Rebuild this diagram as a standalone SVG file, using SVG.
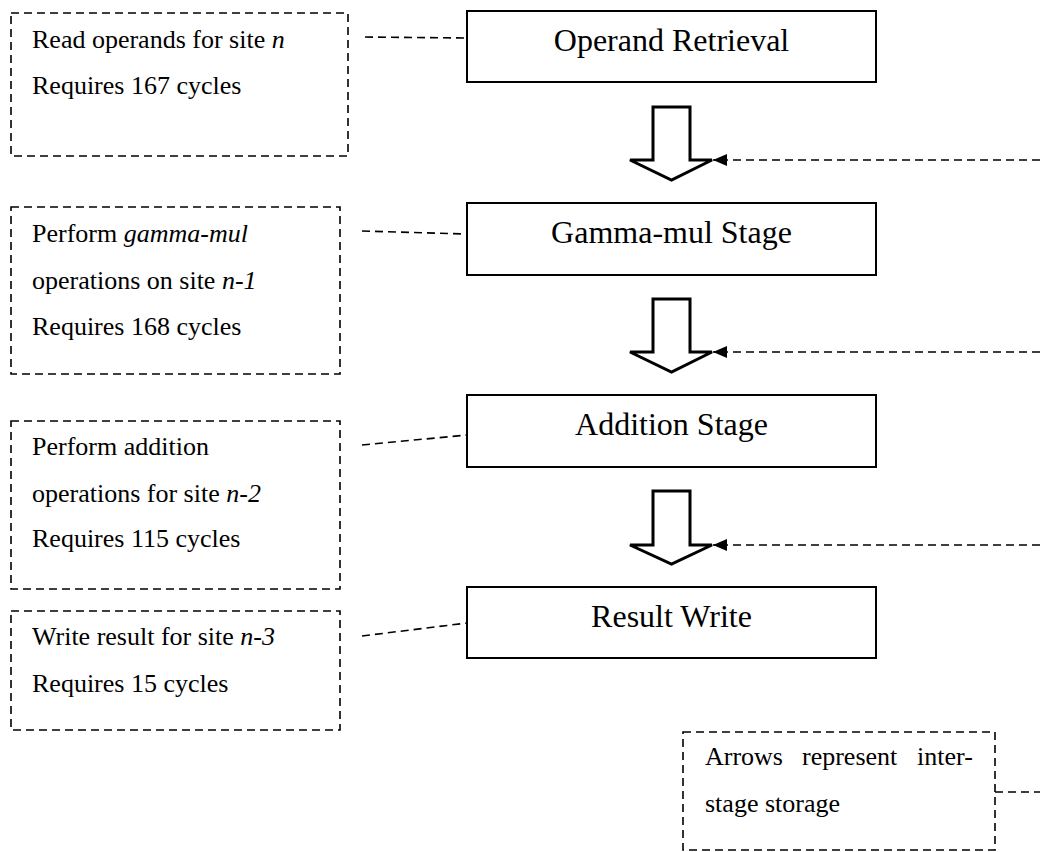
<svg xmlns="http://www.w3.org/2000/svg" width="1040" height="852" viewBox="0 0 1040 852">
<style>
.note{fill:none;stroke:#000;stroke-width:1.6;stroke-dasharray:8,5}
.stage{fill:#fff;stroke:#000;stroke-width:2}
.conn{fill:none;stroke:#000;stroke-width:1.6;stroke-dasharray:8,5}
.flow{fill:#fff;stroke:#000;stroke-width:3;stroke-linejoin:miter}
.t{font-family:"Liberation Serif","Times New Roman",serif;font-size:26px;fill:#000}
.st{font-family:"Liberation Serif","Times New Roman",serif;font-size:32px;fill:#000;text-anchor:middle}
</style>
<defs>
<marker id="ah" markerUnits="userSpaceOnUse" markerWidth="16" markerHeight="14" refX="14" refY="7" orient="auto" viewBox="0 0 16 14">
<path d="M0,1 L14,7 L0,13 Z" fill="#000" stroke="none"/>
</marker>
</defs>
<rect width="1040" height="852" fill="#fff"/>

<g id="flow-arrows">
<polygon class="flow" points="653,107 690,107 690,160 712,160 671.5,180 630,160 653,160"/>
<polygon class="flow" points="653,299 690,299 690,352 712,352 671.5,372 630,352 653,352"/>
<polygon class="flow" points="653,491 690,491 690,545 712,545 671.5,564 630,545 653,545"/>
</g>

<g id="connectors">
<line class="conn" x1="365" y1="37" x2="467" y2="38"/>
<line class="conn" x1="362" y1="231" x2="467" y2="234"/>
<line class="conn" x1="362" y1="445" x2="467" y2="435"/>
<line class="conn" x1="362" y1="636" x2="467" y2="623"/>
<path class="conn" d="M1040,160 H713" marker-end="url(#ah)"/>
<path class="conn" d="M1040,352 H713" marker-end="url(#ah)"/>
<path class="conn" d="M1040,545 H713" marker-end="url(#ah)"/>
<line class="conn" x1="995" y1="792" x2="1040" y2="792"/>
</g>

<g id="note-read">
<rect class="note" x="11" y="13" width="337" height="143"/>
<text class="t" x="32" y="48">Read operands for site <tspan font-style="italic">n</tspan></text>
<text class="t" x="32" y="94">Requires 167 cycles</text>
</g>

<g id="note-gamma">
<rect class="note" x="11" y="207" width="329" height="167"/>
<text class="t" x="32" y="242">Perform <tspan font-style="italic">gamma-mul</tspan></text>
<text class="t" x="32" y="289">operations on site <tspan font-style="italic">n-1</tspan></text>
<text class="t" x="32" y="335">Requires 168 cycles</text>
</g>

<g id="note-addition">
<rect class="note" x="11" y="421" width="329" height="168"/>
<text class="t" x="32" y="455">Perform addition</text>
<text class="t" x="32" y="502">operations for site <tspan font-style="italic">n-2</tspan></text>
<text class="t" x="32" y="547">Requires 115 cycles</text>
</g>

<g id="note-write">
<rect class="note" x="11" y="611" width="329" height="119"/>
<text class="t" x="32" y="645">Write result for site <tspan font-style="italic">n-3</tspan></text>
<text class="t" x="32" y="692">Requires 15 cycles</text>
</g>

<g id="stage-operand">
<rect class="stage" x="467" y="11" width="409" height="71"/>
<text class="st" x="671.5" y="51">Operand Retrieval</text>
</g>
<g id="stage-gamma">
<rect class="stage" x="467" y="203" width="409" height="72"/>
<text class="st" x="671.5" y="243">Gamma-mul Stage</text>
</g>
<g id="stage-addition">
<rect class="stage" x="467" y="395" width="409" height="72"/>
<text class="st" x="671.5" y="435">Addition Stage</text>
</g>
<g id="stage-write">
<rect class="stage" x="467" y="587" width="409" height="71"/>
<text class="st" x="671.5" y="627">Result Write</text>
</g>

<g id="note-storage">
<rect class="note" x="683" y="732" width="312" height="118"/>
<text class="t" y="765"><tspan x="705">Arrows</tspan><tspan x="802">represent</tspan><tspan x="917">inter-</tspan></text>
<text class="t" x="705" y="812">stage storage</text>
</g>
</svg>
